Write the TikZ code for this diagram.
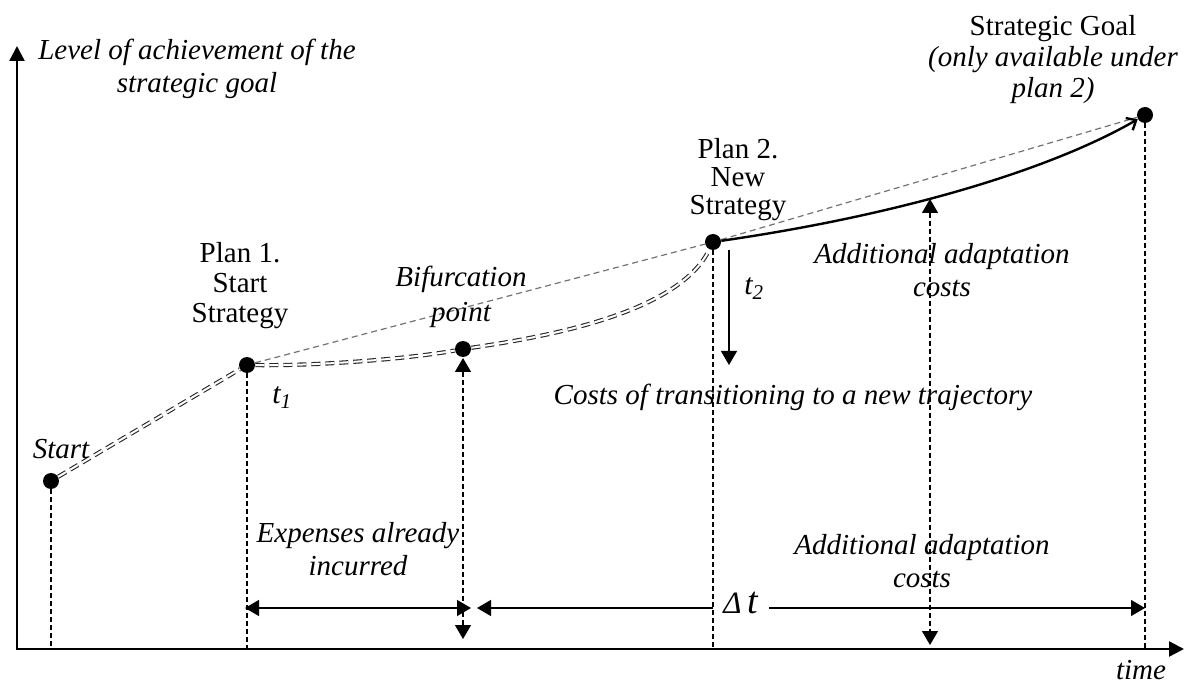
\documentclass[tikz,border=0pt]{standalone}
\usepackage{fontspec}
\setmainfont{Liberation Serif}
\usetikzlibrary{arrows.meta}

\begin{document}
\begin{tikzpicture}[x=0.5pt,y=-0.5pt,>={Triangle[width=8pt,length=7pt]},
    dot/.style={circle,fill=black,inner sep=0pt,minimum size=8pt},
    lab/.style={align=center,inner sep=1pt,font=\itshape\fontsize{14.5}{16.5}\selectfont},
    rlab/.style={align=center,inner sep=1pt,font=\fontsize{14.5}{15}\selectfont},
    axis/.style={line width=1.2pt,{Triangle[width=7.5pt,length=7.5pt]}-{Triangle[width=7.5pt,length=7.5pt]}},
    guide/.style={line width=0.6pt,dash pattern=on 2.5pt off 1.5pt},
    trail/.style={draw=black!85,double=white,double distance=1pt,line width=0.55pt,dash pattern=on 4.5pt off 2.5pt},
    chord/.style={black!55,line width=0.6pt,dash pattern=on 3pt off 2pt},
    measure/.style={line width=0.6pt}]
    \useasboundingbox (0,0) rectangle (1185,684);
    \coordinate (origin) at (17,649);
    \coordinate (ytip) at (17,46);
    \coordinate (xtip) at (1184,649);
    \draw[axis] (ytip) -- (origin) -- (xtip);
    \node (start) at (51,481) [dot]{};
    \node (plan1) at (247,365) [dot]{};
    \node (bif) at (463,349) [dot]{};
    \node (plan2) at (713,242) [dot]{};
    \node (goal) at (1145,115) [dot]{};
    \draw[chord] (plan1) -- (plan2) -- (goal);
    \draw[trail] (start) -- (plan1) .. controls (330,366) and (420,357) .. (bif) .. controls (560,335) and (680,310) .. (plan2);
    \draw[line width=1.2pt,-{Straight Barb[length=4pt,width=7pt]}] (plan2) .. controls (900,215) and (1050,170) .. (goal);
    \node (ylab) at (197,69) [lab]{Level of achievement of the\\strategic goal};
    \node (goallab) at (1053,60) [rlab,font=\fontsize{14.5}{15.5}\selectfont]{Strategic Goal\\\textit{(only available under}\\\textit{plan 2)}};
    \node (plan2lab) at (738,180) [rlab,font=\fontsize{14.5}{14}\selectfont]{Plan 2.\\New\\Strategy};
    \node (plan1lab) at (240,286) [rlab]{Plan 1.\\Start\\Strategy};
    \node (biflab) at (461,297) [lab,font=\itshape\fontsize{14.5}{17.5}\selectfont]{Bifurcation\\point};
    \node (startlab) at (61,449) [lab]{Start};
    \node (t1) at (272,404) [anchor=base west,inner sep=0pt,font=\itshape\fontsize{15}{15}\selectfont]{t\textsubscript{1}};
    \node (t2) at (744,295) [anchor=base west,inner sep=0pt,font=\itshape\fontsize{15}{15}\selectfont]{t\textsubscript{2}};
    \node (costlab) at (793,405) [lab,anchor=base]{Costs of transitioning to a new trajectory};
    \node (adaptup) at (942,270) [lab]{Additional adaptation\\costs};
    \node (adaptdn) at (922,561) [lab]{Additional adaptation\\costs};
    \node (explab) at (358,549) [lab]{Expenses already\\incurred};
    \node (timelab) at (1141,679) [lab,anchor=base]{time};
    \coordinate (expL) at (245,608);
    \coordinate (expR) at (471,608);
    \coordinate (dtL) at (477,608);
    \coordinate (dtR) at (1145,608);
    \draw[measure,<->] (expL) -- (expR);
    \draw[measure,<->] (dtL) -- (dtR);
    \node (dt) at (741,613) [anchor=base,fill=white,inner xsep=5pt,inner ysep=1pt,font=\itshape\fontsize{19}{19}\selectfont]{{\fontsize{15.5}{15.5}\selectfont Δ}\,t};
    \draw[guide] (start) -- (start |- origin);
    \draw[guide] (plan1) -- (plan1 |- origin);
    \draw[guide] (plan2) -- (plan2 |- origin);
    \draw[guide] (goal) -- (goal |- origin);
    \coordinate (bifup) at (463,358);
    \coordinate (bifdn) at (463,639);
    \draw[guide,<->] (bifup) -- (bifdn);
    \coordinate (adup) at (930,199);
    \coordinate (addn) at (930,645);
    \draw[guide,<->] (adup) -- (addn);
    \coordinate (t2up) at (729,250);
    \coordinate (t2dn) at (729,365);
    \draw[measure,->] (t2up) -- (t2dn);
\end{tikzpicture}
\end{document}
